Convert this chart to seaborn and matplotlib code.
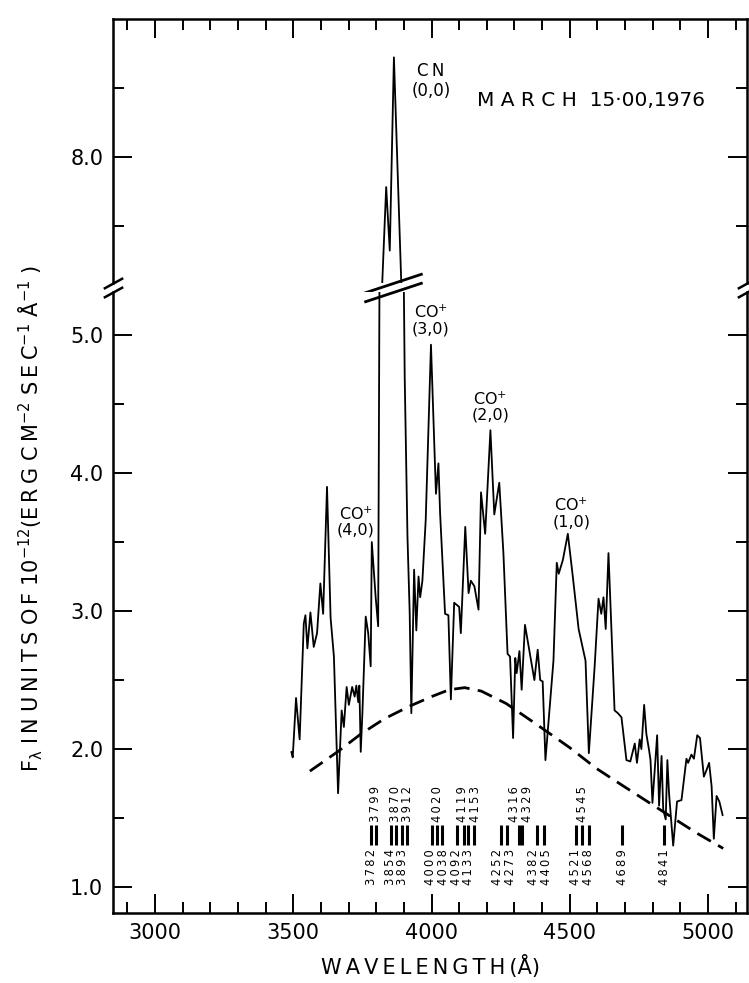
"""
Spectrum of Comet West, March 15.00 1976 (broken flux axis)
- spectrum trace + dashed continuum
- identification ticks with wavelengths
- output: out.png
"""

import numpy as np
import pandas as pd
import matplotlib
matplotlib.use("Agg")
import matplotlib.pyplot as plt
import matplotlib.transforms as mtransforms
from matplotlib.ticker import MultipleLocator, FixedLocator, FormatStrFormatter
import seaborn as sns

# -----------------------------
# Data
# -----------------------------
WAVELENGTH = [3493, 3498, 3510, 3523, 3538, 3544, 3551, 3562, 3574, 3586,
              3598, 3608, 3622, 3635, 3647, 3662, 3675, 3683, 3693, 3701,
              3713, 3722, 3728, 3735, 3739, 3744, 3750, 3762, 3771, 3780,
              3784, 3798, 3807, 3812, 3820, 3836, 3849, 3864, 3892, 3903,
              3913, 3921, 3927, 3937, 3945, 3953, 3959, 3967, 3979, 3998,
              4016, 4025, 4031, 4049, 4061, 4070, 4082, 4100, 4106, 4122,
              4134, 4142, 4155, 4170, 4179, 4194, 4213, 4227, 4245, 4260,
              4275, 4284, 4295, 4303, 4308, 4318, 4326, 4338, 4372, 4384,
              4393, 4402, 4412, 4441, 4453, 4460, 4475, 4493, 4511, 4532,
              4557, 4569, 4590, 4604, 4614, 4622, 4630, 4640, 4662, 4674,
              4687, 4705, 4719, 4735, 4743, 4753, 4759, 4769, 4777, 4787,
              4792, 4799, 4816, 4823, 4832, 4838, 4847, 4853, 4859, 4874,
              4888, 4904, 4922, 4928, 4940, 4949, 4961, 4971, 4985, 4995,
              5004, 5013, 5021, 5031, 5041, 5053]
FLUX = [1.98, 1.94, 2.37, 2.07, 2.91, 2.97, 2.73, 2.99, 2.74, 2.84,
        3.20, 2.98, 3.90, 2.95, 2.67, 1.68, 2.28, 2.16, 2.45, 2.32,
        2.45, 2.38, 2.46, 2.34, 2.46, 1.98, 2.26, 2.96, 2.84, 2.60,
        3.50, 3.10, 2.89, 5.50, 7.00, 7.78, 7.32, 8.72, 7.00, 4.70,
        3.54, 2.99, 2.26, 3.30, 2.86, 3.25, 3.10, 3.22, 3.66, 4.93,
        3.85, 4.07, 3.71, 2.98, 2.97, 2.36, 3.06, 3.03, 2.84, 3.61,
        3.13, 3.22, 3.18, 3.01, 3.86, 3.56, 4.31, 3.70, 3.93, 3.42,
        2.69, 2.67, 2.08, 2.66, 2.55, 2.71, 2.43, 2.90, 2.50, 2.72,
        2.50, 2.49, 1.92, 2.64, 3.35, 3.27, 3.37, 3.56, 3.25, 2.87,
        2.64, 1.97, 2.60, 3.09, 2.98, 3.10, 2.87, 3.42, 2.28, 2.26,
        2.23, 1.92, 1.91, 2.04, 1.90, 2.07, 2.00, 2.32, 2.11, 1.99,
        1.92, 1.61, 2.10, 1.59, 1.95, 1.56, 1.49, 1.92, 1.68, 1.30,
        1.62, 1.63, 1.93, 1.90, 1.96, 1.93, 2.10, 2.08, 1.80, 1.85,
        1.90, 1.73, 1.35, 1.66, 1.62, 1.52]

CONT_WAVELENGTH = [3560, 3660, 3745, 3830, 3920, 4000, 4064, 4120, 4180,
                   4270, 4350, 4415, 4500, 4596, 4680, 4765, 4874, 4960, 5055]
CONT_FLUX = [1.84, 1.98, 2.11, 2.22, 2.31, 2.38, 2.43, 2.445, 2.42,
             2.33, 2.22, 2.13, 2.01, 1.86, 1.75, 1.64, 1.50, 1.39, 1.28]

# identification marks: labels under the bars / labels above the bars
IDS_BELOW = [3782, 3854, 3893, 4000, 4038, 4092, 4133, 4252, 4273,
             4382, 4405, 4521, 4568, 4689, 4841]
IDS_ABOVE = [3799, 3870, 3912, 4020, 4119, 4153, 4316, 4329, 4545]

BAND_LABELS = ["CO$^{+}$\n(4,0)", "CO$^{+}$\n(3,0)", "CO$^{+}$\n(2,0)", "CO$^{+}$\n(1,0)"]
BAND_X = [3726, 3998, 4213, 4505]
BAND_Y = [3.65, 5.11, 4.48, 3.71]

X_TICKS = [3000, 3500, 4000, 4500, 5000]
Y_TICKS_LOW = [1.0, 2.0, 3.0, 4.0, 5.0]
Y_TICKS_HIGH = [8.0]

THIN = "\u2009"


def spaced(s):
    return THIN.join(s)


def spread(vals, gap=46.0):
    # push close labels apart so they do not overlap
    pos = [float(v) for v in vals]
    for _ in range(40):
        for i in range(len(pos) - 1):
            d = pos[i + 1] - pos[i]
            if d < gap:
                shift = (gap - d) / 2
                pos[i] -= shift
                pos[i + 1] += shift
    return pos


spec = pd.DataFrame({"wavelength": WAVELENGTH, "flux": FLUX})
cont = pd.DataFrame({"wavelength": CONT_WAVELENGTH, "flux": CONT_FLUX})

# -----------------------------
# Figure / axes
# -----------------------------
sns.set_theme(style="ticks")
plt.rcParams["font.family"] = ["DejaVu Sans"]
plt.rcParams["mathtext.default"] = "regular"
plt.rcParams["axes.linewidth"] = 1.8

W, H = 749, 983
fig = plt.figure(figsize=(W / 100, H / 100), dpi=100)


def box(left, top, right, bottom):
    return [left / W, 1 - bottom / H, (right - left) / W, (bottom - top) / H]


ax_top = fig.add_axes(box(113, 18.7, 747, 283))
ax_bot = fig.add_axes(box(113, 292, 747, 913))

for ax in (ax_top, ax_bot):
    sns.lineplot(data=spec, x="wavelength", y="flux", ax=ax, color="black",
                 linewidth=1.3, estimator=None, sort=False)
    sns.lineplot(data=cont, x="wavelength", y="flux", ax=ax, color="black",
                 linewidth=2.0, linestyle=(0, (5.6, 3.0)), estimator=None, sort=False)
    ax.set_xlim(2848, 5141)
    ax.set_xlabel("")
    ax.set_ylabel("")
    ax.xaxis.set_major_locator(FixedLocator(X_TICKS))
    ax.xaxis.set_minor_locator(MultipleLocator(100))
    ax.xaxis.set_major_formatter(FormatStrFormatter("%d"))
    ax.yaxis.set_major_formatter(FormatStrFormatter("%.1f"))
    ax.tick_params(which="both", direction="in", width=1.4, color="black",
                   labelsize=15, labelcolor="black", left=True, right=True)
    ax.tick_params(which="major", length=14, pad=7)
    ax.tick_params(which="minor", length=8)
    for sp in ax.spines.values():
        sp.set_color("black")

ax_top.set_ylim(7.085, 9.0)
ax_top.yaxis.set_major_locator(FixedLocator(Y_TICKS_HIGH))
ax_top.yaxis.set_minor_locator(FixedLocator([7.5, 8.5]))
ax_top.spines["bottom"].set_visible(False)
ax_top.tick_params(axis="x", which="both", bottom=False, top=True, labelbottom=False)

ax_bot.set_ylim(0.812, 5.312)
ax_bot.yaxis.set_major_locator(FixedLocator(Y_TICKS_LOW))
ax_bot.yaxis.set_minor_locator(MultipleLocator(0.5))
ax_bot.spines["top"].set_visible(False)
ax_bot.tick_params(axis="x", which="both", bottom=True, top=False)

# break marks on the frame
slash = [(-1, -0.55), (1, 0.55)]
kw = dict(marker=slash, markersize=14, linestyle="none", color="black",
          mec="black", mew=1.8, clip_on=False)
ax_top.plot([0, 1], [0, 0], transform=ax_top.transAxes, **kw)
ax_bot.plot([0, 1], [1, 1], transform=ax_bot.transAxes, **kw)

# break marks across the CN peak
kw2 = dict(marker=[(-1, -0.33), (1, 0.33)], markersize=42, linestyle="none",
           color="black", mec="black", mew=2.0, clip_on=False)
ax_top.plot([3861], [0], transform=mtransforms.blended_transform_factory(
    ax_top.transData, ax_top.transAxes), **kw2)
ax_bot.plot([3861], [1], transform=mtransforms.blended_transform_factory(
    ax_bot.transData, ax_bot.transAxes), **kw2)

# identification bars + wavelengths
ax_bot.vlines(IDS_BELOW + IDS_ABOVE, 1.304, 1.449, color="black", linewidth=2.2)
for xpos, lab in zip(spread(IDS_BELOW), IDS_BELOW):
    ax_bot.text(xpos, 1.275, spaced(str(lab)), rotation=90, ha="center", va="top",
                fontsize=8.3, color="black")
for xpos, lab in zip(spread(IDS_ABOVE), IDS_ABOVE):
    ax_bot.text(xpos, 1.475, spaced(str(lab)), rotation=90, ha="center", va="bottom",
                fontsize=8.3, color="black")

# band labels
for lab, bx, by in zip(BAND_LABELS, BAND_X, BAND_Y):
    ax_bot.text(bx, by, lab, ha="center", va="center", fontsize=11.5,
                linespacing=1.0, color="black")
ax_top.text(3998, 8.55, spaced("CN") + "\n(0,0)", ha="center", va="center",
            fontsize=12, linespacing=1.1, color="black")
ax_top.text(4166, 8.41, "M A R C H  15\u00b700,1976", ha="left", va="center",
            fontsize=14.5, color="black")

# axis labels
ax_bot.set_xlabel(spaced("WAVELENGTH") + THIN + "(Å)", fontsize=15, labelpad=9,
                  color="black")
ylab = ("F$_{\\lambda}$ " + spaced("IN") + " " + spaced("UNITS") + " " + spaced("OF")
        + " 10$^{-12}$(" + spaced("ERG") + " " + spaced("CM") + "$^{-2}$ "
        + spaced("SEC") + "$^{-1}$ Å$^{-1}$ )")
fig.text(31 / W, 1 - 518 / H, ylab, rotation=90, ha="center", va="center",
         fontsize=15, color="black")

fig.savefig("out.png", dpi=100, facecolor="white")
